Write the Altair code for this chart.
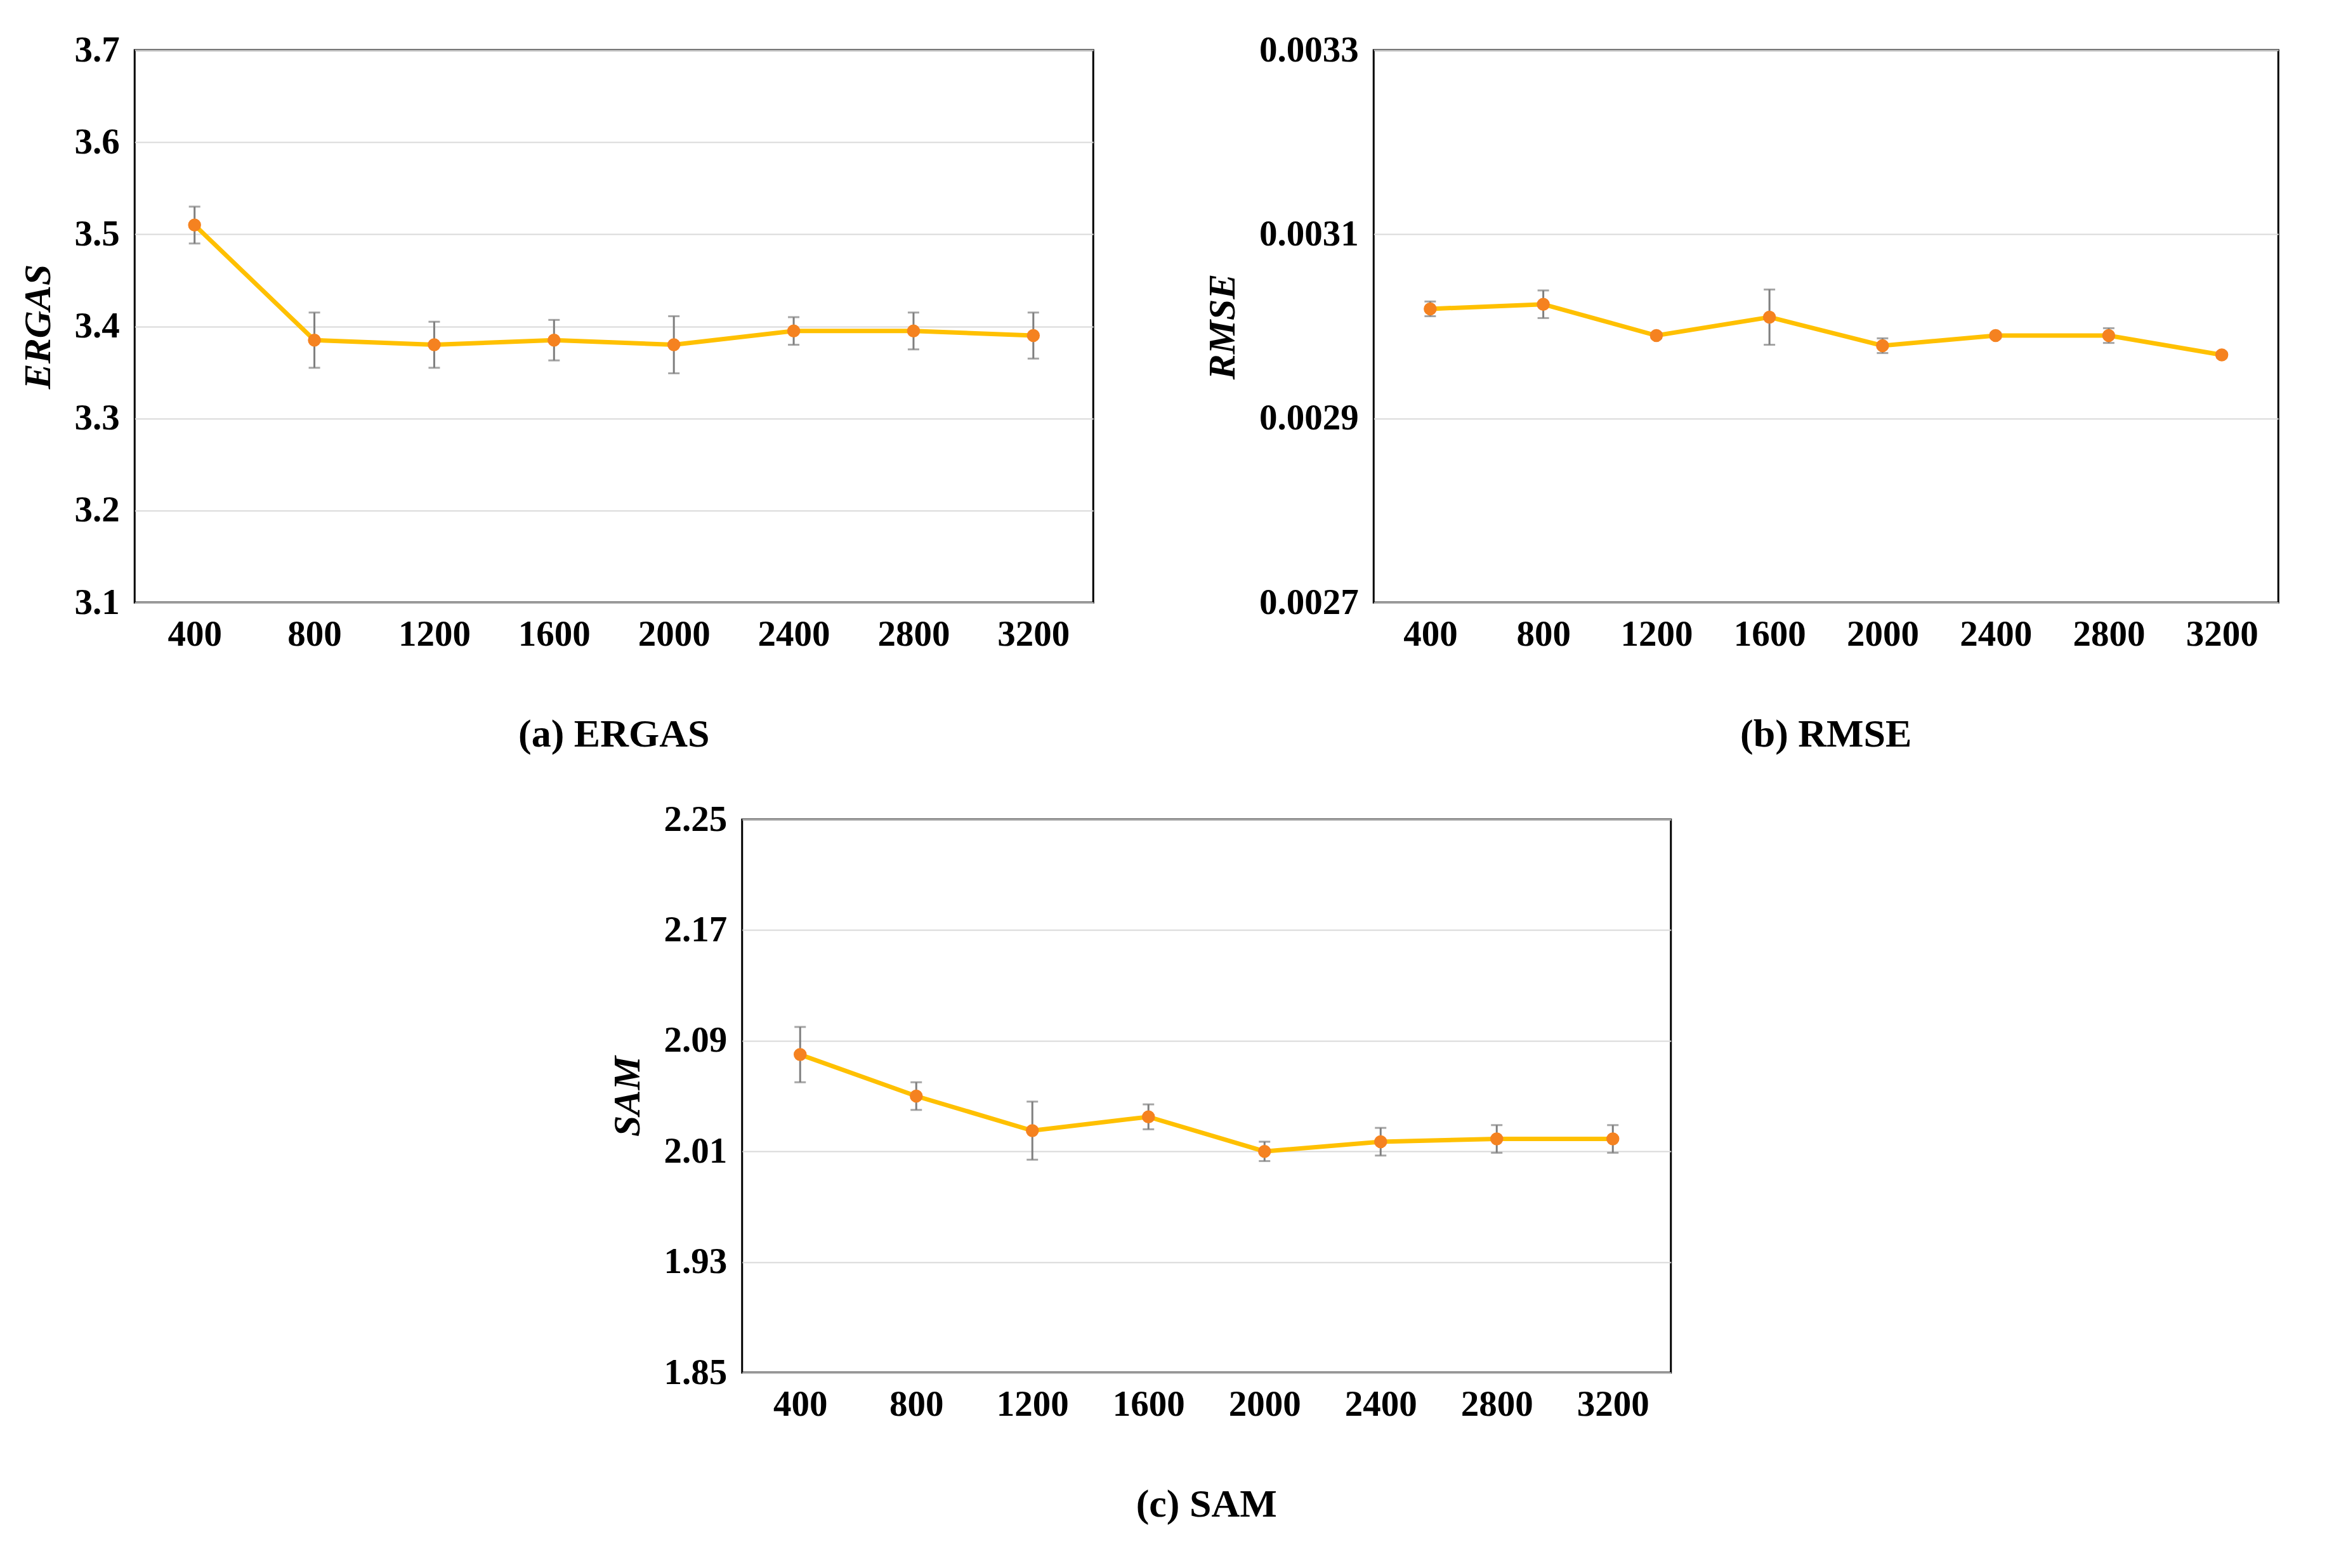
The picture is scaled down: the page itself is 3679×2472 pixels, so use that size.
import altair as alt
import pandas as pd

ITERS = [400, 800, 1200, 1600, 2000, 2400, 2800, 3200]

ERGAS = [3.51, 3.385, 3.38, 3.385, 3.38, 3.395, 3.395, 3.39]
ERGAS_ERR = [0.02, 0.03, 0.025, 0.022, 0.031, 0.015, 0.02, 0.025]

RMSE = [0.003019, 0.003024, 0.00299, 0.00301, 0.002979, 0.00299, 0.00299, 0.002969]
RMSE_ERR = [0.000008, 0.000015, 0.000003, 0.00003, 0.000008, 0.000003, 0.000008, 0.000003]

SAM = [2.080, 2.050, 2.025, 2.035, 2.010, 2.017, 2.019, 2.019]
SAM_ERR = [0.020, 0.010, 0.021, 0.009, 0.007, 0.010, 0.010, 0.010]

FONT = "Liberation Serif"
LINE = "#FFC000"
DOT = "#F58220"


def panel(values, errs, name, caption, domain, ticks, fmt, width, height):
    df = pd.DataFrame({"iter": [str(i) for i in ITERS], "v": values})
    df["lo"] = [v - e for v, e in zip(values, errs)]
    df["hi"] = [v + e for v, e in zip(values, errs)]
    x = alt.X("iter:O", sort=None, title=None,
              scale=alt.Scale(type="point", padding=0.5),
              axis=alt.Axis(labelAngle=0, ticks=False, domain=False, grid=False,
                            labelPadding=22))
    y_scale = alt.Scale(domain=domain, nice=False, zero=False)
    base = alt.Chart(df)
    y = alt.Y("v:Q", scale=y_scale, title=name,
              axis=alt.Axis(values=ticks, format=fmt, ticks=False, domain=False,
                            gridColor="#d9d9d9", gridWidth=2, labelPadding=24,
                            titleFontStyle="italic", titlePadding=26))
    line = base.mark_line(color=LINE, strokeWidth=7).encode(x=x, y=y)
    rule = base.mark_rule(color="#7f7f7f", strokeWidth=3).encode(
        x=x, y=alt.Y("lo:Q", scale=y_scale), y2="hi:Q")
    cap_lo = base.mark_tick(color="#7f7f7f", thickness=3, size=18).encode(
        x=x, y=alt.Y("lo:Q", scale=y_scale))
    cap_hi = base.mark_tick(color="#7f7f7f", thickness=3, size=18).encode(
        x=x, y=alt.Y("hi:Q", scale=y_scale))
    pts = base.mark_circle(color=DOT, size=420, opacity=1).encode(x=x, y=y)
    return alt.layer(line, rule, cap_lo, cap_hi, pts).properties(
        width=width, height=height,
        title=alt.TitleParams(caption, orient="bottom", offset=100, fontSize=62,
                              font=FONT, fontWeight="bold"))


a = panel(ERGAS, ERGAS_ERR, "ERGAS", "(a) ERGAS", [3.1, 3.7],
          [3.1, 3.2, 3.3, 3.4, 3.5, 3.6, 3.7], ".1f", 1511, 871)
b = panel(RMSE, RMSE_ERR, "RMSE", "(b) RMSE", [0.0027, 0.0033],
          [0.0027, 0.0029, 0.0031, 0.0033], ".4f", 1426, 871)
c = panel(SAM, SAM_ERR, "SAM", "(c) SAM", [1.85, 2.25],
          [1.85, 1.93, 2.01, 2.09, 2.17, 2.25], ".2f", 1464, 872)

chart = alt.vconcat(
    alt.hconcat(a, b, spacing=170),
    c,
    spacing=70,
    center=True,
).properties(
    padding={"left": 20, "top": 40, "right": 10, "bottom": 10}
).configure(font=FONT).configure_axis(
    labelFont=FONT, labelFontSize=57, labelFontWeight="bold", labelColor="black",
    titleFont=FONT, titleFontSize=60, titleFontWeight="bold", titleColor="black",
).configure_view(stroke="black", strokeWidth=3)

chart.save("out.html", embed_options={"renderer": "svg", "actions": False})
